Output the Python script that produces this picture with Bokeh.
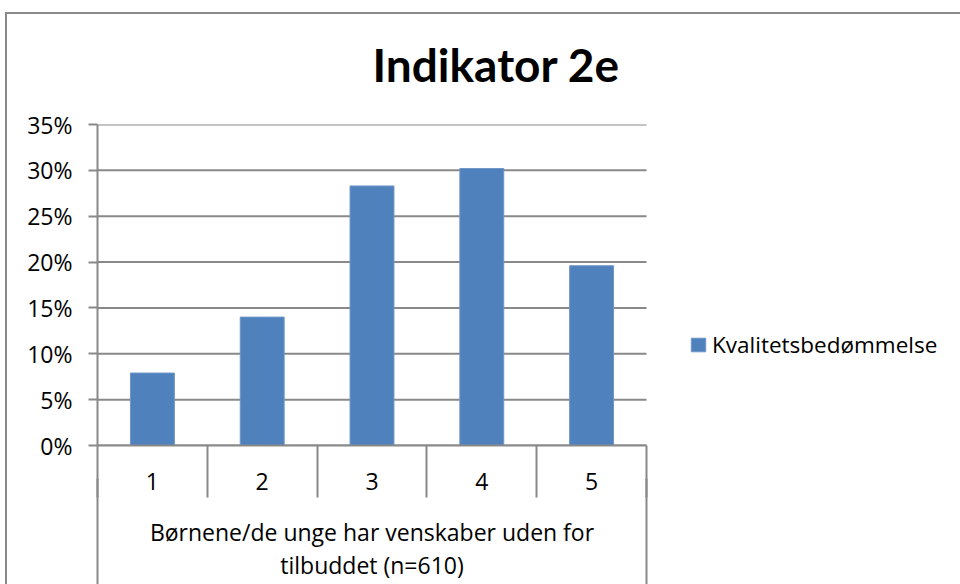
from bokeh.plotting import figure
from bokeh.models import (Range1d, FixedTicker, NumeralTickFormatter, LinearAxis, Legend,
                          LegendItem, Title)
from bokeh.embed import file_html
from bokeh.resources import INLINE

title_text = "Indikator 2e"
categories = ["1", "2", "3", "4", "5"]
values = [0.079, 0.140, 0.283, 0.302, 0.196]
series_name = "Kvalitetsbedømmelse"
group_label = "Børnene/de unge har venskaber uden for\ntilbuddet (n=610)"
y_ticks = [0, 0.05, 0.10, 0.15, 0.20, 0.25, 0.30, 0.35]

FONT = "Open Sans"
GRAY = "#898989"
BAR = "#4F81BD"

W, H = 960, 584
PLOT_LEFT, PLOT_RIGHT, PLOT_TOP, PLOT_BOTTOM = 97, 646, 124, 445   # plot-area box (px)

x_pos = list(range(1, len(categories) + 1))
boundaries = [i + 0.5 for i in range(0, len(categories) + 1)]
x_start, x_end_cat = boundaries[0], boundaries[-1]
x_mid = (x_start + x_end_cat) / 2
px_per_unit = (PLOT_RIGHT - PLOT_LEFT) / (x_end_cat - x_start)
x_end = x_start + (W - PLOT_LEFT) / px_per_unit     # frame extends right to hold the legend

p = figure(width=W, height=H, output_backend="svg", toolbar_location=None,
           x_range=Range1d(x_start, x_end), y_range=Range1d(0, y_ticks[-1]),
           min_border_left=PLOT_LEFT, min_border_right=0, min_border_top=PLOT_TOP,
           min_border_bottom=H - PLOT_BOTTOM,
           x_axis_type=None, y_axis_type=None)
p.outline_line_color = None
p.background_fill_color = "white"
p.border_fill_alpha = 0
# outer chart-area border (top and left edges), shown behind the transparent canvas border
p.styles = {
    "background-color": "white",
    "background-image": f"linear-gradient({GRAY}, {GRAY}), linear-gradient({GRAY}, {GRAY})",
    "background-size": "2px 100%, 100% 2px",
    "background-position": "5px 12px, 5px 12px",
    "background-repeat": "no-repeat",
}

# y axis
yaxis = LinearAxis(ticker=FixedTicker(ticks=y_ticks), formatter=NumeralTickFormatter(format="0%"),
                   major_tick_out=9, major_tick_in=0, minor_tick_out=0, minor_tick_in=0,
                   axis_line_color=GRAY, axis_line_width=2,
                   major_tick_line_color=GRAY, major_tick_line_width=2,
                   major_label_text_font=FONT, major_label_text_font_size="23px",
                   major_label_text_color="black", major_label_standoff=16)
p.add_layout(yaxis, "left")

# horizontal gridlines across the plot area only
p.segment(x0=x_start, x1=x_end_cat, y0=y_ticks, y1=y_ticks, line_color=GRAY, line_width=2)

# x axis: category labels + separators
xaxis1 = LinearAxis(ticker=FixedTicker(ticks=x_pos, minor_ticks=boundaries),
                    bounds=(x_start, x_end_cat),
                    major_label_overrides={x: c for x, c in zip(x_pos, categories)},
                    major_tick_out=0, major_tick_in=0, minor_tick_out=52, minor_tick_in=0,
                    minor_tick_line_color=GRAY, minor_tick_line_width=2,
                    axis_line_color=GRAY, axis_line_width=2,
                    major_label_text_font=FONT, major_label_text_font_size="23px",
                    major_label_text_color="black", major_label_standoff=-25)
# x axis: group box (outer lines) + group label (centred under the categories)
xaxis2 = LinearAxis(ticker=FixedTicker(ticks=[x_mid], minor_ticks=[x_start, x_end_cat]),
                    bounds=(x_start, x_end_cat),
                    major_label_overrides={x_mid: group_label},
                    major_tick_out=0, major_tick_in=0, minor_tick_out=100, minor_tick_in=14,
                    minor_tick_line_color=GRAY, minor_tick_line_width=2,
                    axis_line_color=None,
                    major_label_text_font=FONT, major_label_text_font_size="23px",
                    major_label_text_color="black", major_label_standoff=-77,
                    major_label_text_line_height=1.05)
p.add_layout(xaxis1, "below")
p.add_layout(xaxis2, "below")

r = p.vbar(x=x_pos, top=values, width=0.4, fill_color=BAR, line_color="#7096c8", line_width=1)

legend = Legend(items=[LegendItem(label=series_name, renderers=[r])], location=(592, 85),
                border_line_color=None, background_fill_alpha=0, padding=0, margin=0,
                glyph_width=18, glyph_height=17, label_standoff=5,
                label_text_font=FONT, label_text_font_size="22.5px", label_text_color="black")
p.add_layout(legend)

p.title = Title(text=title_text, align="left", offset=275, text_font="Lato",
                text_font_size="46px", text_font_style="bold", text_color="black", standoff=66)

open("out.html", "w").write(file_html(p, INLINE))
